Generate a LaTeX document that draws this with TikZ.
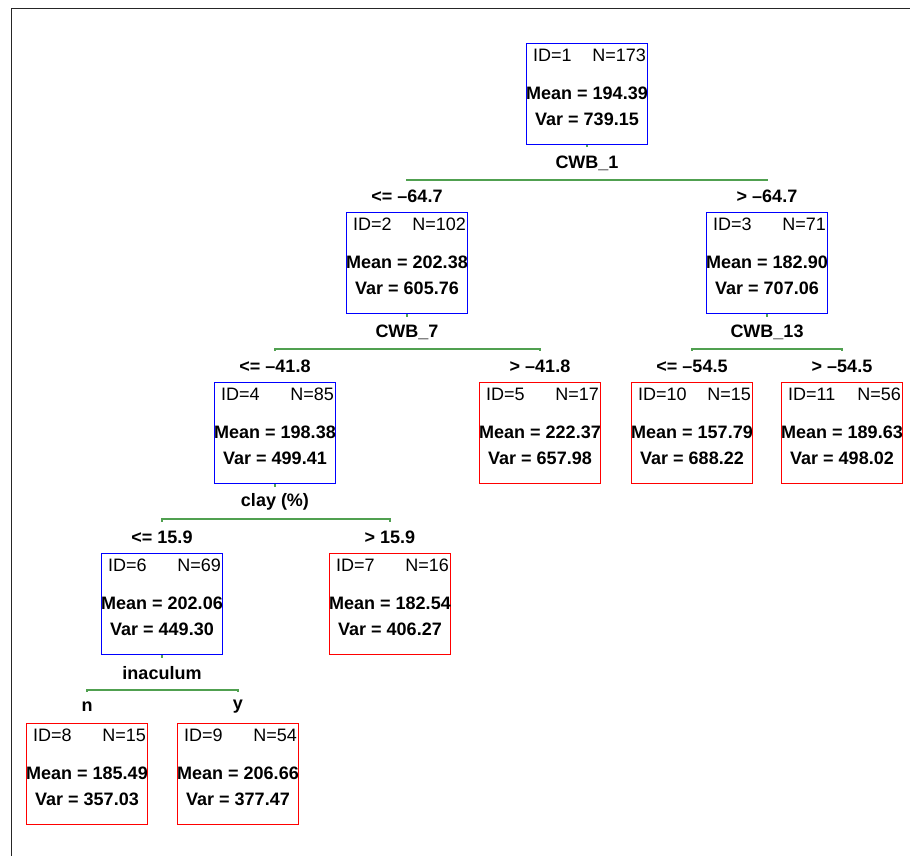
\documentclass[tikz,border=0pt]{standalone}
\usepackage{fontspec}
\setmainfont{Liberation Sans}
\usepackage{tikz}
\usetikzlibrary{positioning}
\pgfdeclarelayer{background}
\pgfsetlayers{background,main}
\definecolor{splitgreen}{RGB}{80,160,80}
\tikzstyle{leaf}=[line width=1pt,minimum width=121pt,minimum height=101pt,inner sep=0pt,anchor=north]
\tikzstyle{edge} = [draw,splitgreen,line width=1.4pt]
\tikzstyle{infotext}=[font=\fontsize{18}{20}\selectfont,inner sep=0pt]
\tikzstyle{stattext}=[font=\fontsize{18}{20}\selectfont\bfseries,inner sep=0pt]
\tikzstyle{splitlabel}=[font=\fontsize{18}{20}\selectfont\bfseries,fill=white,inner xsep=2pt,inner ysep=0pt,minimum height=31pt]

\begin{document}
\begin{tikzpicture}[x=1pt,y=-1pt]
    \useasboundingbox (0,0) rectangle (910,856);
    % frame of the plot
    \draw[line width=1pt,black!85] (11.5,856) -- (11.5,8.5) -- (910,8.5);
    % First we draw the nodes of the tree
    \foreach \name/\x/\y/\id/\size/\mean/\var/\col in {
        n1/587/43/1/173/194.39/739.15/blue,
        n2/407/212/2/102/202.38/605.76/blue,
        n3/767/212/3/71/182.90/707.06/blue,
        n4/275/382/4/85/198.38/499.41/blue,
        n5/540/382/5/17/222.37/657.98/red,
        n10/692/382/10/15/157.79/688.22/red,
        n11/842/382/11/56/189.63/498.02/red,
        n6/162/553/6/69/202.06/449.30/blue,
        n7/390/553/7/16/182.54/406.27/red,
        n8/87/723/8/15/185.49/357.03/red,
        n9/238/723/9/54/206.66/377.47/red}
    {
        \node[leaf,draw=\col] (\name) at (\x,\y) {};
        \node[infotext,anchor=west] (\name-id) at ([xshift=7pt,yshift=-12pt]\name.north west) {ID=\id};
        \node[infotext,anchor=east] (\name-n) at ([xshift=-2pt,yshift=-12pt]\name.north east) {N=\size};
        \node[stattext] (\name-mean) at ([yshift=-50pt]\name.north) {Mean = \mean};
        \node[stattext] (\name-var) at ([yshift=-76pt]\name.north) {Var = \var};
    }
    % Connect nodes with the split lines
    \begin{pgfonlayer}{background}
    \foreach \parent/\split/\left/\right in {n1/s1/n2/n3, n2/s2/n4/n5, n3/s3/n10/n11, n4/s4/n6/n7, n6/s6/n8/n9}
    {
        \coordinate (\split) at ([yshift=-35pt]\parent.south);
        \path[edge] (\parent.south) -- (\split);
        \path[edge] (\left.north) |- (\split) -| (\right.north);
    }
    \end{pgfonlayer}
    % split variables
    \foreach \split/\varname in {s1/CWB\_1, s2/CWB\_7, s3/CWB\_13, s4/clay (\%), s6/inaculum}
        \node[splitlabel] (\split-var) at ([yshift=17pt]\split) {\varname};
    % branch conditions
    \foreach \child/\cond in {n2/{<= –64.7}, n3/{> –64.7}, n4/{<= –41.8}, n5/{> –41.8},
        n10/{<= –54.5}, n11/{> –54.5}, n6/{<= 15.9}, n7/{> 15.9}, n8/n, n9/y}
        \node[splitlabel] (\child-cond) at ([yshift=16pt]\child.north) {\cond};

\end{tikzpicture}
\end{document}
